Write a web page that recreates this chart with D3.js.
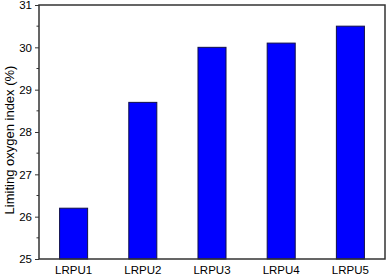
<!DOCTYPE html>
<html>
<head>
<meta charset="utf-8">
<script src="https://cdn.jsdelivr.net/npm/d3@7"></script>
<style>
  body { margin: 0; background: #fff; }
  text { font-family: "Liberation Sans", Arial, sans-serif; fill: #000; }
</style>
</head>
<body>
<svg id="chart" width="387" height="275"></svg>
<script>
var categories = ["LRPU1", "LRPU2", "LRPU3", "LRPU4", "LRPU5"];
var loiValues = [26.2, 28.7, 30.0, 30.1, 30.5];
var yTicks = [25, 26, 27, 28, 29, 30, 31];

var svg = d3.select("#chart");
var width = 387, height = 275;
var margin = {top: 5, right: 2, bottom: 16, left: 39};

var data = categories.map(function(c, i) { return {name: c, value: loiValues[i]}; });

var xScale = d3.scaleBand()
  .domain(categories)
  .range([margin.left, width - margin.right])
  .paddingInner(0.595)
  .paddingOuter(0.2975);

var yScale = d3.scaleLinear()
  .domain([25, 31])
  .range([height - margin.bottom, margin.top]);

// bars
svg.selectAll("rect.bar")
  .data(data)
  .enter().append("rect")
  .attr("class", "bar")
  .attr("x", d => xScale(d.name))
  .attr("y", d => yScale(d.value))
  .attr("width", xScale.bandwidth())
  .attr("height", d => yScale(25) - yScale(d.value))
  .attr("fill", "#0000ff")
  .attr("stroke", "#10104a")
  .attr("stroke-width", 1);

// minor ticks on y
var minor = d3.range(25.5, 31, 1);
svg.append("g")
  .attr("transform", `translate(${margin.left}, 0)`)
  .selectAll("line")
  .data(minor)
  .enter().append("line")
  .attr("x1", -2.5).attr("x2", 0)
  .attr("y1", d => yScale(d)).attr("y2", d => yScale(d))
  .attr("stroke", "#333").attr("stroke-width", 1);

var yAxis = d3.axisLeft(yScale)
  .tickValues(yTicks)
  .tickFormat(d3.format("d"))
  .tickSize(4)
  .tickPadding(3);

var gy = svg.append("g")
  .attr("transform", `translate(${margin.left}, 0)`)
  .call(yAxis);
gy.select(".domain").remove();
gy.selectAll("line").attr("stroke", "#333");
gy.selectAll("text").style("font-size", "11.5px");

var xAxis = d3.axisBottom(xScale).tickSize(0).tickPadding(7);
var gx = svg.append("g")
  .attr("transform", `translate(0, ${height - margin.bottom})`)
  .call(xAxis);
gx.select(".domain").remove();
gx.selectAll("text").style("font-size", "11.5px");

// frame
svg.append("rect")
  .attr("x", margin.left)
  .attr("y", margin.top)
  .attr("width", width - margin.left - margin.right)
  .attr("height", height - margin.top - margin.bottom)
  .attr("fill", "none")
  .attr("stroke", "#333")
  .attr("stroke-width", 1.5);

svg.append("text")
  .attr("transform", "rotate(-90)")
  .attr("x", -(margin.top + (height - margin.top - margin.bottom) / 2) - 8)
  .attr("y", 14)
  .style("text-anchor", "middle")
  .style("font-size", "13px")
  .text("Limiting oxygen index (%)");
</script>
</body>
</html>
